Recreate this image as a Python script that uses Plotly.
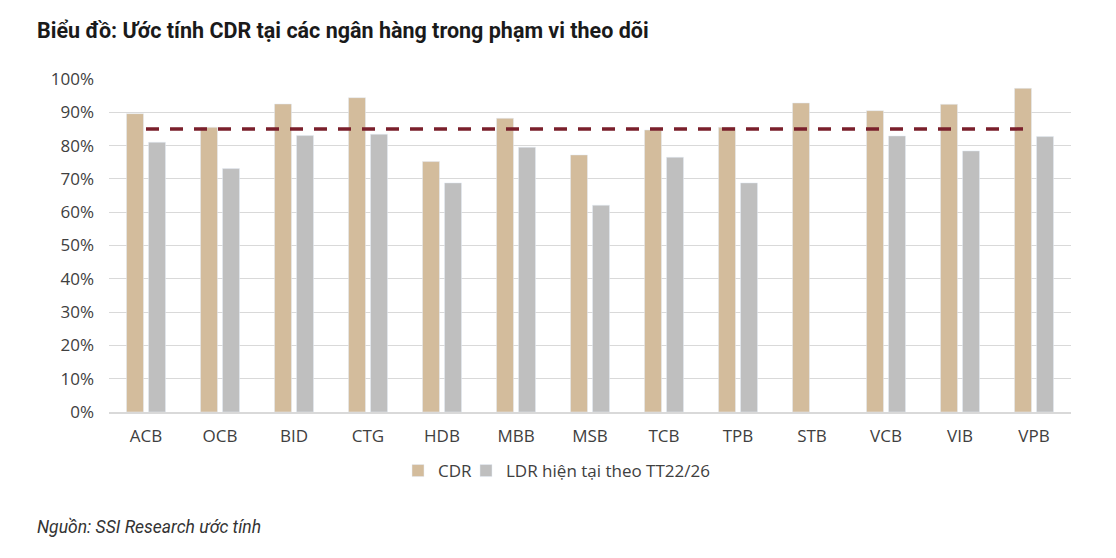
import plotly.graph_objects as go

banks = ["ACB", "OCB", "BID", "CTG", "HDB", "MBB", "MSB", "TCB", "TPB", "STB", "VCB", "VIB", "VPB"]
cdr = [0.896, 0.855, 0.925, 0.944, 0.752, 0.882, 0.772, 0.847, 0.855, 0.928, 0.905, 0.924, 0.972]
ldr = [0.810, 0.731, 0.830, 0.834, 0.688, 0.795, 0.621, 0.765, 0.688, None, 0.829, 0.784, 0.827]
threshold = [0.85] * len(banks)

tick_vals = [i / 10 for i in range(11)]
tick_text = [f"{i * 10}%" for i in range(11)]

fig = go.Figure()
fig.add_trace(go.Bar(name="CDR", x=banks, y=cdr, marker_color="#D3BC9C", legend="legend"))
fig.add_trace(go.Bar(name="LDR hiện tại theo TT22/26", x=banks, y=ldr, marker_color="#BFBFBF",
                     legend="legend2"))
fig.add_trace(go.Scatter(x=banks, y=threshold, mode="lines", showlegend=False,
                         line=dict(color="#7A1F2B", width=3.5, dash="13px,11px"),
                         hoverinfo="skip"))

L, R, T, B = 109, 45, 79, 146
W, H = 1116, 558
pw = W - L - R
ph = H - T - B


def px(x):
    return (x - L) / pw


def py(y):
    return (H - B - y) / ph


legend_common = dict(orientation="h", xanchor="left", yanchor="top",
                     font=dict(size=17, color="#404040"), itemwidth=30,
                     bgcolor="rgba(0,0,0,0)")

fig.update_layout(
    width=W, height=H,
    margin=dict(l=L, r=R, t=T, b=B),
    paper_bgcolor="white", plot_bgcolor="white",
    barmode="group", bargap=0.405, bargroupgap=0.227,
    font=dict(family="Open Sans, sans-serif", size=17, color="#404040"),
    showlegend=True,
    legend=dict(x=px(398), y=py(453), **legend_common),
    legend2=dict(x=px(466), y=py(453), **legend_common),
    annotations=[
        dict(text="<b>Biểu đồ: Ước tính CDR tại các ngân hàng trong phạm vi theo dõi</b>",
             x=px(35), y=py(30), xref="paper", yref="paper", showarrow=False,
             xanchor="left", yanchor="middle",
             font=dict(family="Roboto, sans-serif", size=21.5, color="#1a1a1a")),
        dict(text="<i>Nguồn: SSI Research ước tính</i>",
             x=px(35), y=py(527), xref="paper", yref="paper", showarrow=False,
             xanchor="left", yanchor="middle",
             font=dict(family="Roboto, sans-serif", size=17.5, color="#333333")),
    ],
)

fig.update_xaxes(showgrid=False, showline=True, linecolor="#D9D9D9", linewidth=1.5,
                 ticks="", tickfont=dict(size=17, color="#404040"), ticklabelstandoff=8)
fig.update_yaxes(range=[0, 1.0], tickvals=tick_vals, ticktext=tick_text,
                 showgrid=True, gridcolor="#D9D9D9", gridwidth=1.2, zeroline=False,
                 showline=False, ticks="", tickfont=dict(size=17, color="#404040"),
                 ticklabelstandoff=14)

fig.write_html("out.html", config={"displayModeBar": False},
               post_script="document.body.style.margin='0px';document.body.style.padding='0px';")
